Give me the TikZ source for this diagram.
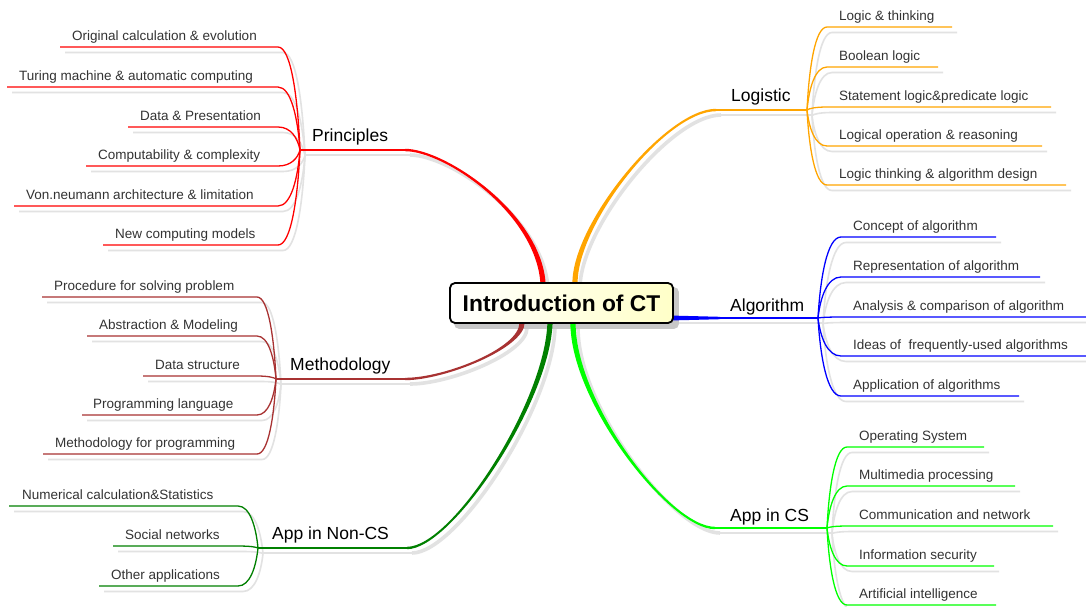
\documentclass[tikz,border=0pt]{standalone}
\usepackage{fontspec}
\setmainfont{Liberation Sans}
\usetikzlibrary{calc}
\pgfdeclarelayer{back}
\pgfdeclarelayer{bg}
\pgfsetlayers{back,bg,main}
\definecolor{cRed}{HTML}{FF0000}
\definecolor{cOrange}{HTML}{FFA500}
\definecolor{cBlue}{HTML}{0000FF}
\definecolor{cLime}{HTML}{00FF00}
\definecolor{cDGreen}{HTML}{008000}
\definecolor{cBrown}{HTML}{A83232}
\definecolor{cShadow}{HTML}{E2E2E2}
\definecolor{cLeafText}{HTML}{333333}
\definecolor{cBoxR}{HTML}{FFFFC8}
\tikzset{
  leaftext/.style={inner sep=0pt, text=cLeafText, font=\fontsize{13.5}{16}\selectfont, anchor=base west},
  brtext/.style={inner sep=0pt, text=black, font=\fontsize{17.5}{20}\selectfont, anchor=base west},
  leafline/.style={line width=1.3pt},
  leafshadow/.style={line width=1.6pt, draw=cShadow, transform canvas={shift={(5,5.5)}}},
  hubline/.style={line width=2.4pt},
  hubshadow/.style={line width=2.8pt, draw=cShadow, transform canvas={shift={(5,5)}}},
  centerbox/.style={draw=black, line width=1.8pt, rounded corners=5pt, minimum width=223pt,
    minimum height=40pt, inner sep=0pt, left color=white, right color=cBoxR,
    font=\bfseries\fontsize{22.8}{26}\selectfont},
}
% #1 knee, #2 attach, #3,#4 control offset at knee, #5,#6 control offset at attach, #7 colour, #8 side sign
\newcommand\mmbranch[8]{%
  \begin{pgfonlayer}{bg}
    \draw[draw=cShadow, line width=3.6pt, transform canvas={shift={(5,5)}}]
      (#1) .. controls +(#3,#4) and +(#5,#6) .. (#2);
  \end{pgfonlayer}
  \fill[#7] ($(#1)+(0,-1.2)$) .. controls ($(#1)+({#3},{#4-1.2})$) and ($(#2)+({#5+(#8)*2.6},{#6})$)
    .. ($(#2)+({(#8)*2.6},0)$) -- ($(#2)+({-(#8)*2.6},0)$)
    .. controls ($(#2)+({#5-(#8)*2.6},{#6})$) and ($(#1)+({#3},{#4+1.2})$) .. ($(#1)+(0,1.2)$) -- cycle;
}
% #1 hub name, #2 hub x, #3 hub y, #4 colour, #5 list sx/ex/y/tx/name/text
\newcommand\mmleaves[5]{%
  \foreach \sx/\ex/\yy/\tx/\nm/\txt in {#5} {
    \pgfmathsetmacro\dx{\sx-#2}
    \pgfmathsetmacro\dy{\yy-#3}
    \pgfmathsetmacro\ax{0.1*\dx}
    \pgfmathsetmacro\ay{0.5*\dy}
    \pgfmathsetmacro\bx{-0.6*\dx}
    \coordinate (\nm s) at (\sx,\yy);
    \coordinate (\nm e) at (\ex,\yy);
    \begin{pgfonlayer}{bg}
      \draw[leafshadow] (#1) .. controls +(\ax,\ay) and +(\bx,0) .. (\nm s) -- (\nm e);
    \end{pgfonlayer}
    \draw[leafline, draw=#4] (#1) .. controls +(\ax,\ay) and +(\bx,0) .. (\nm s) -- (\nm e);
    \node[leaftext] (\nm) at (\tx,\yy-7) {\txt};
  }
}
\begin{document}
\begin{tikzpicture}[x=1pt,y=-1pt]
\useasboundingbox (0,0) rectangle (1086,606);
\begin{pgfonlayer}{back}
  \fill[white] (0,0) rectangle (1086,606);
\end{pgfonlayer}
% hubs, knees and attach points
\coordinate (PH) at (300,150); \coordinate (PK) at (405,150); \coordinate (PC) at (543,283);
\coordinate (LH) at (807,110); \coordinate (LK) at (716,110); \coordinate (LC) at (575,283);
\coordinate (MH) at (276,379); \coordinate (MK) at (405,379); \coordinate (MC) at (522,323);
\coordinate (NH) at (258,548); \coordinate (NK) at (407,548); \coordinate (NC) at (550,323);
\coordinate (AH) at (827,528); \coordinate (AK) at (715,528); \coordinate (AC) at (573,323);
\coordinate (GH) at (818,318); \coordinate (GK) at (720,318); \coordinate (GC) at (673,318);

% main branches
\mmbranch{PK}{PC}{40}{0}{-5}{-70}{cRed}{1}
\mmbranch{LK}{LC}{-50}{0}{0}{-60}{cOrange}{-1}
\mmbranch{MK}{MC}{40}{0}{0}{25}{cBrown}{-1}
\mmbranch{NK}{NC}{45}{0}{-3}{80}{cDGreen}{-1}
\mmbranch{AK}{AC}{-45}{0}{0}{80}{cLime}{1}
\begin{pgfonlayer}{bg}
  \draw[hubshadow] (GC) -- (GH);
  \foreach \h/\k in {PH/PK,LH/LK,MH/MK,NH/NK,AH/AK} \draw[hubshadow] (\h) -- (\k);
\end{pgfonlayer}
\fill[cBlue] ($(GC)+(0,-2.4)$) -- ($(GK)+(0,-1.2)$) -- ($(GK)+(0,1.2)$) -- ($(GC)+(0,2.4)$) -- cycle;
\draw[hubline, cBlue] (GK) -- (GH);
\draw[hubline, cRed] (PH) -- (PK);
\draw[hubline, cOrange] (LH) -- (LK);
\draw[hubline, cBrown] (MH) -- (MK);
\draw[hubline, cDGreen] (NH) -- (NK);
\draw[hubline, cLime] (AH) -- (AK);

% branch labels
\node[brtext] (Pt) at (312,141) {Principles};
\node[brtext] (Lt) at (731,101) {Logistic};
\node[brtext] (Gt) at (730,311) {Algorithm};
\node[brtext] (At) at (730,521) {App in CS};
\node[brtext] (Mt) at (290,370) {Methodology};
\node[brtext] (Nt) at (272,539) {App in Non-CS};

% leaves
\mmleaves{PH}{300}{150}{cRed}{
  278/60/47/72/p1/Original calculation \& evolution,
  278/7/87/19/p2/Turing machine \& automatic computing,
  278/128/127/140/p3/Data \& Presentation,
  278/86/166/98/p4/Computability \& complexity,
  278/14/206/26/p5/Von.neumann architecture \& limitation,
  278/103/245/115/p6/New computing models}
\mmleaves{MH}{276}{379}{cBrown}{
  257/42/297/54/m1/Procedure for solving problem,
  257/87/336/99/m2/Abstraction \& Modeling,
  257/143/376/155/m3/Data structure,
  257/82/415/93/m4/Programming language,
  257/43/454/55/m5/Methodology for programming}
\mmleaves{NH}{258}{548}{cDGreen}{
  238/9/506/22/n1/Numerical calculation\&Statistics,
  238/113/546/125/n2/Social networks,
  238/99/586/111/n3/Other applications}
\mmleaves{LH}{807}{110}{cOrange}{
  827/952/27/839/l1/Logic \& thinking,
  827/938/67/839/l2/Boolean logic,
  827/1051/107/839/l3/Statement logic\&predicate logic,
  827/1042/146/839/l4/Logical operation \& reasoning,
  827/1066/185/839/l5/Logic thinking \& algorithm design}
\mmleaves{GH}{818}{318}{cBlue}{
  841/996/237/853/g1/Concept of algorithm,
  841/1040/277/853/g2/Representation of algorithm,
  841/1090/317/853/g3/Analysis \& comparison of algorithm,
  841/1090/356/853/g4/Ideas of \ frequently-used algorithms,
  841/1019/396/853/g5/Application of algorithms}
\mmleaves{AH}{827}{528}{cLime}{
  847/984/447/859/a1/Operating System,
  847/1015/486/859/a2/Multimedia processing,
  847/1053/526/859/a3/Communication and network,
  847/994/566/859/a4/Information security,
  847/996/605/859/a5/Artificial intelligence}

% centre
\node[centerbox] (ct) at (561.5,303) {Introduction of CT};
\begin{pgfonlayer}{bg}
  \fill[black!22, rounded corners=5pt, transform canvas={shift={(5,5)}}] (ct.south west) rectangle (ct.north east);
\end{pgfonlayer}
\end{tikzpicture}
\end{document}
